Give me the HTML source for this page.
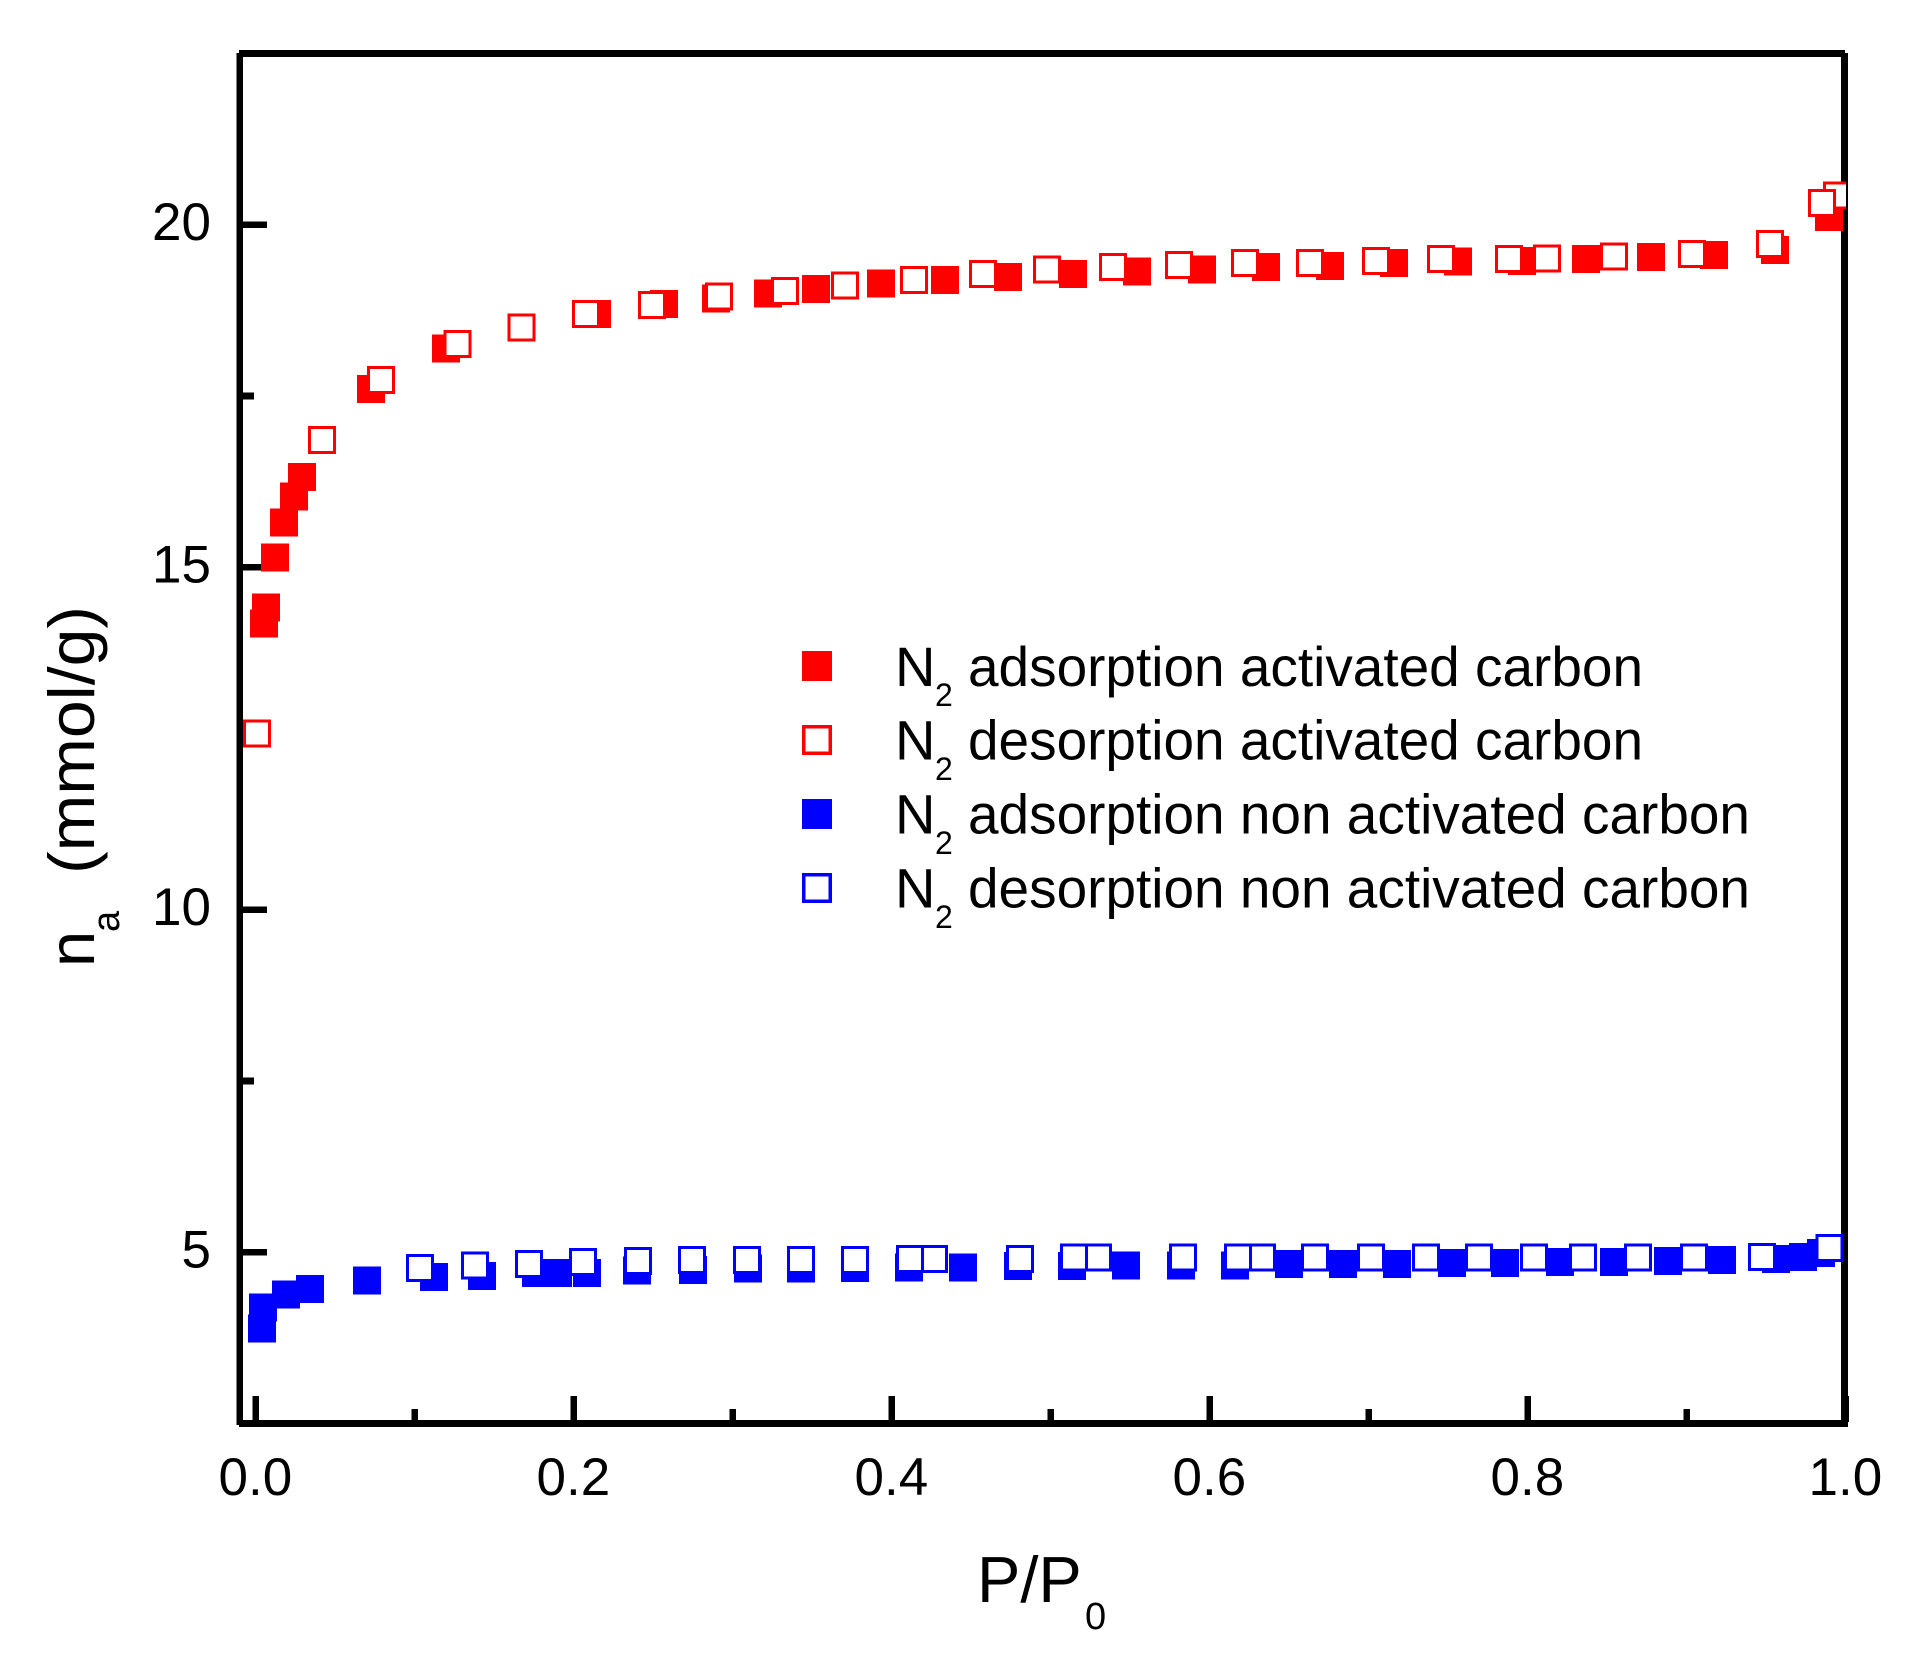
<!DOCTYPE html>
<html lang="en">
<head>
<meta charset="utf-8">
<title>N2 adsorption and desorption isotherms</title>
<style>
  html, body { margin: 0; padding: 0; background: #fff; width: 1921px; height: 1664px; overflow: hidden; }
  svg { display: block; }
  text { font-family: "Liberation Sans", Arial, sans-serif; fill: #000; }
</style>
</head>
<body>
<svg id="chart" xmlns="http://www.w3.org/2000/svg" width="1921" height="1664" viewBox="0 0 1921 1664">
  <defs>
    <clipPath id="plot-clip"><rect x="0" y="0" width="1846" height="1664"></rect></clipPath>
  </defs>
  <g id="axes"></g>
  <g id="marks" clip-path="url(#plot-clip)"></g>

  <text x="977" y="1602" font-size="65">P/P</text>
  <text x="1085" y="1629" font-size="38">0</text>

  <text transform="translate(94 967) rotate(-90)" font-size="65">n</text>
  <text transform="translate(119 932) rotate(-90)" font-size="38">a</text>
  <text transform="translate(94 874) rotate(-90)" font-size="65" textLength="268" lengthAdjust="spacingAndGlyphs">(mmol/g)</text>

  <g shape-rendering="crispEdges">
    <g>
      <rect x="802" y="651" width="30" height="30" fill="#ff0000"></rect>
      <text x="895" y="686" font-size="56">N</text>
      <text x="935" y="706" font-size="32">2</text>
      <text x="968" y="686" font-size="56" textLength="675" lengthAdjust="spacingAndGlyphs">adsorption activated carbon</text>
    </g>
    <g>
      <rect x="803.75" y="726.75" width="26.5" height="26.5" fill="#fff" stroke="#ff0000" stroke-width="3.5"></rect>
      <text x="895" y="759.5" font-size="56">N</text>
      <text x="935" y="780" font-size="32">2</text>
      <text x="968" y="759.5" font-size="56" textLength="675" lengthAdjust="spacingAndGlyphs">desorption activated carbon</text>
    </g>
    <g>
      <rect x="802" y="799" width="30" height="30" fill="#0000ff"></rect>
      <text x="895" y="833.5" font-size="56">N</text>
      <text x="935" y="854" font-size="32">2</text>
      <text x="968" y="833.5" font-size="56" textLength="782" lengthAdjust="spacingAndGlyphs">adsorption non activated carbon</text>
    </g>
    <g>
      <rect x="803.75" y="874.75" width="26.5" height="26.5" fill="#fff" stroke="#0000ff" stroke-width="3.5"></rect>
      <text x="895" y="907.5" font-size="56">N</text>
      <text x="935" y="928" font-size="32">2</text>
      <text x="968" y="907.5" font-size="56" textLength="782" lengthAdjust="spacingAndGlyphs">desorption non activated carbon</text>
    </g>
  </g>
</svg>
<script>
// Tick values and labels
const xMajorTicks = [0, 0.2, 0.4, 0.6, 0.8, 1.0];
const xMajorLabels = ["0.0", "0.2", "0.4", "0.6", "0.8", "1.0"];
const xMinorTicks = [0.1, 0.3, 0.5, 0.7, 0.9];
const yMajorTicks = [5, 10, 15, 20];
const yMajorLabels = ["5", "10", "15", "20"];
const yMinorTicks = [7.5, 12.5, 17.5];

// N2 adsorption, activated carbon
const redAdsP = [.0054,.0067,.0123,.0180,.0243,.0293,.0727,.1199,.2148,.2570,.2897,.3224,.3526,.3935,.4337,.4733,.5142,.5545,.5953,.6356,.6758,.7161,.7564,.7966,.8369,.8777,.9174,.9558,.9897];
const redAdsN = [14.18,14.41,15.14,15.65,16.03,16.32,17.60,18.19,18.70,18.84,18.92,19.00,19.06,19.14,19.19,19.24,19.28,19.32,19.35,19.38,19.40,19.44,19.46,19.47,19.50,19.53,19.56,19.63,20.11];

// N2 desorption, activated carbon (measured from high to low pressure)
const redDesP = [.9947,.9853,.9526,.9035,.8545,.8123,.7884,.7457,.7048,.6633,.6224,.5809,.5394,.4979,.4576,.4142,.3708,.3331,.2916,.2494,.2079,.1674,.1272,.0790,.0419,.0010];
const redDesN = [20.43,20.32,19.72,19.57,19.54,19.51,19.50,19.50,19.47,19.44,19.44,19.41,19.38,19.35,19.28,19.19,19.11,19.03,18.95,18.83,18.70,18.50,18.26,17.73,16.86,12.57];

// N2 adsorption, non activated carbon
const blueAdsP = [.0042,.0048,.0192,.0343,.0702,.1123,.1425,.1765,.1903,.2086,.2400,.2752,.3098,.3431,.3771,.4111,.4450,.4796,.5136,.5476,.5822,.6161,.6501,.6841,.7180,.7526,.7859,.8205,.8545,.8884,.9224,.9564,.9733,.9847];
const blueAdsN = [3.89,4.19,4.38,4.46,4.59,4.64,4.65,4.70,4.70,4.70,4.73,4.74,4.76,4.76,4.77,4.78,4.78,4.80,4.80,4.81,4.81,4.81,4.83,4.83,4.83,4.84,4.84,4.86,4.86,4.87,4.89,4.90,4.93,4.99];

// N2 desorption, non activated carbon (measured from high to low pressure)
const blueDesP = [.9900,.9475,.9047,.8695,.8349,.8041,.7695,.7362,.7016,.6664,.6331,.6180,.5834,.5299,.5148,.4809,.4268,.4117,.3771,.3431,.3092,.2746,.2407,.2061,.1721,.1381,.1035];
const blueDesN = [5.06,4.93,4.92,4.92,4.92,4.92,4.92,4.92,4.92,4.92,4.92,4.92,4.92,4.92,4.92,4.90,4.90,4.90,4.89,4.89,4.89,4.89,4.87,4.86,4.83,4.81,4.77];

const SVG_NS = "http://www.w3.org/2000/svg";
const xScale = function (v) { return 255.4 + v * 1590; };
const yScale = function (v) { return 1423.5 - (v - 2.5) * 68.5; };
const axesLayer = document.getElementById("axes");
const marksLayer = document.getElementById("marks");

function makeRect(parent, x, y, w, h, fill) {
  const r = document.createElementNS(SVG_NS, "rect");
  r.setAttribute("x", x);
  r.setAttribute("y", y);
  r.setAttribute("width", w);
  r.setAttribute("height", h);
  r.setAttribute("fill", fill);
  r.setAttribute("shape-rendering", "crispEdges");
  parent.appendChild(r);
  return r;
}

function makeLabel(x, y, anchor, content) {
  const t = document.createElementNS(SVG_NS, "text");
  t.setAttribute("x", x);
  t.setAttribute("y", y);
  t.setAttribute("font-size", "53");
  t.setAttribute("text-anchor", anchor);
  t.textContent = content;
  axesLayer.appendChild(t);
  return t;
}

// Axis frame
const leftSpine = makeRect(axesLayer, 236.5, 53, 6.5, 1372, "#000");


const bottomSpine = makeRect(axesLayer, 239, 1420, 1606, 7, "#000");


const topSpine = makeRect(axesLayer, 239, 50, 1606, 7, "#000");


const rightSpine = makeRect(axesLayer, 1841, 53, 7, 1374, "#000");



// X ticks
xMajorTicks.forEach(function (v, i) {
  const tick = makeRect(axesLayer, xScale(v) - 3, 1396, 6.5, 26, "#000");
  
  
  const label = makeLabel(xScale(v), 1495, "middle", xMajorLabels[i]);
  
  
});
xMinorTicks.forEach(function (v) {
  const tick = makeRect(axesLayer, xScale(v) - 3, 1409, 6.5, 13, "#000");
  
  
});

// Y ticks
yMajorTicks.forEach(function (v, i) {
  const tick = makeRect(axesLayer, 240, yScale(v) - 3.3, 27, 6.7, "#000");
  
  
  const label = makeLabel(211, yScale(v) + 15, "end", yMajorLabels[i]);
  
  
});
yMinorTicks.forEach(function (v) {
  const tick = makeRect(axesLayer, 240, yScale(v) - 3.3, 14, 6.7, "#000");
  
  
});

// Data marks
function drawFilled(xs, ys, color) {
  xs.forEach(function (p, i) {
    const m = makeRect(marksLayer, xScale(p) - 14, yScale(ys[i]) - 14, 28, 28, color);
    
    
  });
}
function drawOpen(xs, ys, color) {
  xs.forEach(function (p, i) {
    const m = makeRect(marksLayer, xScale(p) - 12.5, yScale(ys[i]) - 12.5, 25, 25, "#fff");
    m.setAttribute("stroke", color);
    m.setAttribute("stroke-width", "3");
    
    
  });
}
drawFilled(redAdsP, redAdsN, "#ff0000");
drawOpen(redDesP, redDesN, "#ff0000");
drawFilled(blueAdsP, blueAdsN, "#0000ff");
drawOpen(blueDesP, blueDesN, "#0000ff");
</script>
</body>
</html>
